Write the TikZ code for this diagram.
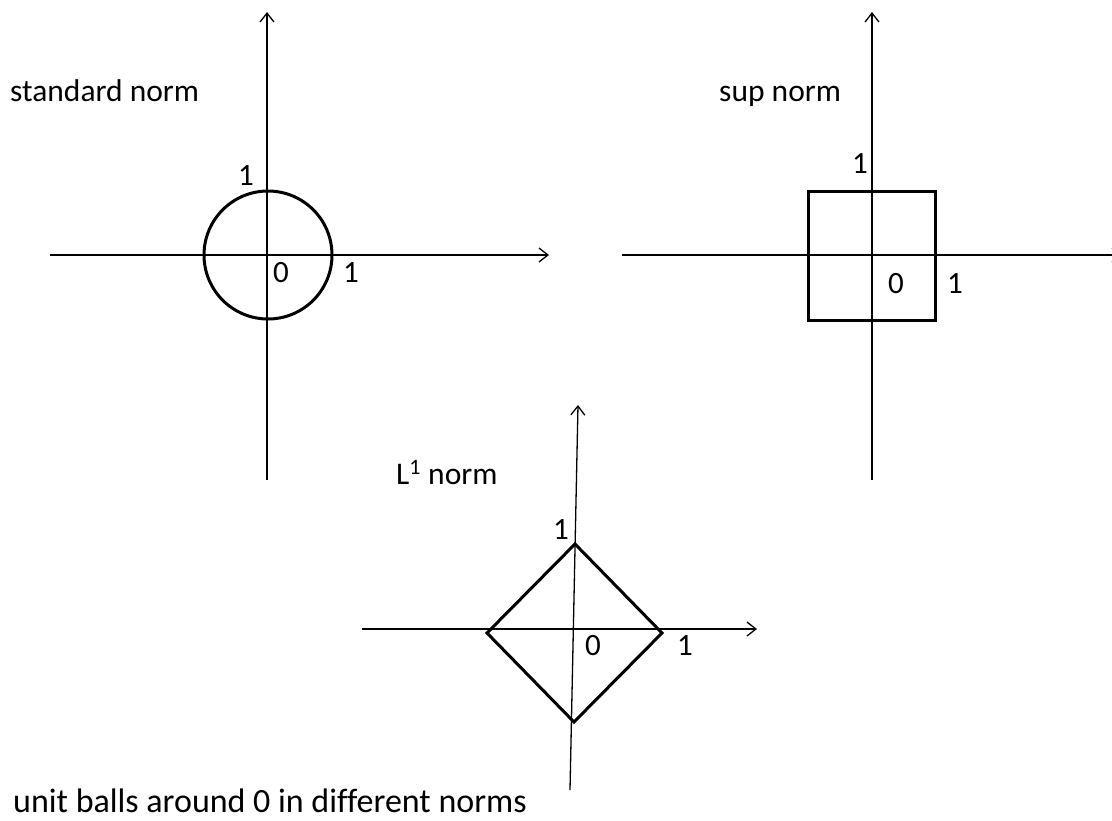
\documentclass[tikz,border=0pt]{standalone}
\usepackage{fontspec}
\setmainfont[Ligatures=NoCommon]{Carlito}
\usetikzlibrary{arrows.meta}
\begin{document}
\begin{tikzpicture}[x=1pt,y=-1pt,
  axis/.style={line width=1.3pt,-{Straight Barb[length=9pt,width=14pt,line width=1.3pt]}},
  ball/.style={line width=3pt,line join=miter},
  lbl/.style={font=\fontsize{31}{36}\selectfont,inner sep=0pt},
  title/.style={font=\fontsize{31.5}{36}\selectfont,inner sep=0pt,anchor=base west},
  captionstyle/.style={font=\fontsize{34}{40}\selectfont,inner sep=0pt,anchor=base west}]
\useasboundingbox (0,0) rectangle (1112,820);
% panel 1
\coordinate (a1l) at (50,255); \coordinate (a1r) at (549,255);
\coordinate (a1b) at (267,480); \coordinate (a1t) at (267,12);
\draw[axis] (a1l) -- (a1r);
\draw[axis] (a1b) -- (a1t);
\coordinate (c1) at (268,255);
\draw[ball] (c1) circle[radius=64];
\node[title] (t1) at (10,101) {standard norm};
\node[lbl] (o1y) at (246,176) {1};
\node[lbl] (o10) at (281,273) {0};
\node[lbl] (o1x) at (351,273) {1};
% panel 2
\coordinate (a2l) at (622,255); \coordinate (a2r) at (1122,255);
\coordinate (a2b) at (872,480); \coordinate (a2t) at (872,12);
\draw[axis] (a2l) -- (a2r);
\draw[axis] (a2b) -- (a2t);
\draw[ball] (808,191) rectangle (935,320);
\node[title] (t2) at (719,101) {sup norm};
\node[lbl] (o2y) at (860,164) {1};
\node[lbl] (o20) at (896,284) {0};
\node[lbl] (o2x) at (955,284) {1};
% panel 3
\coordinate (a3l) at (362,629); \coordinate (a3r) at (757,629);
\coordinate (a3b) at (570,790); \coordinate (a3t) at (578,405);
\draw[axis] (a3l) -- (a3r);
\draw[axis] (a3b) -- (a3t);
\coordinate (dt) at (575,544); \coordinate (dr) at (662,633);
\coordinate (db) at (574,722); \coordinate (dl) at (487,633);
\draw[ball] (dt) -- (dr) -- (db) -- (dl) -- cycle;
\node[title] (t3) at (396,484) {L\textsuperscript{1} norm};
\node[lbl] (o3y) at (561,530) {1};
\node[lbl] (o30) at (593,646) {0};
\node[lbl] (o3x) at (685,646) {1};
% caption
\node[captionstyle] (cap) at (13,812) {unit balls around 0 in different norms};
\end{tikzpicture}
\end{document}
